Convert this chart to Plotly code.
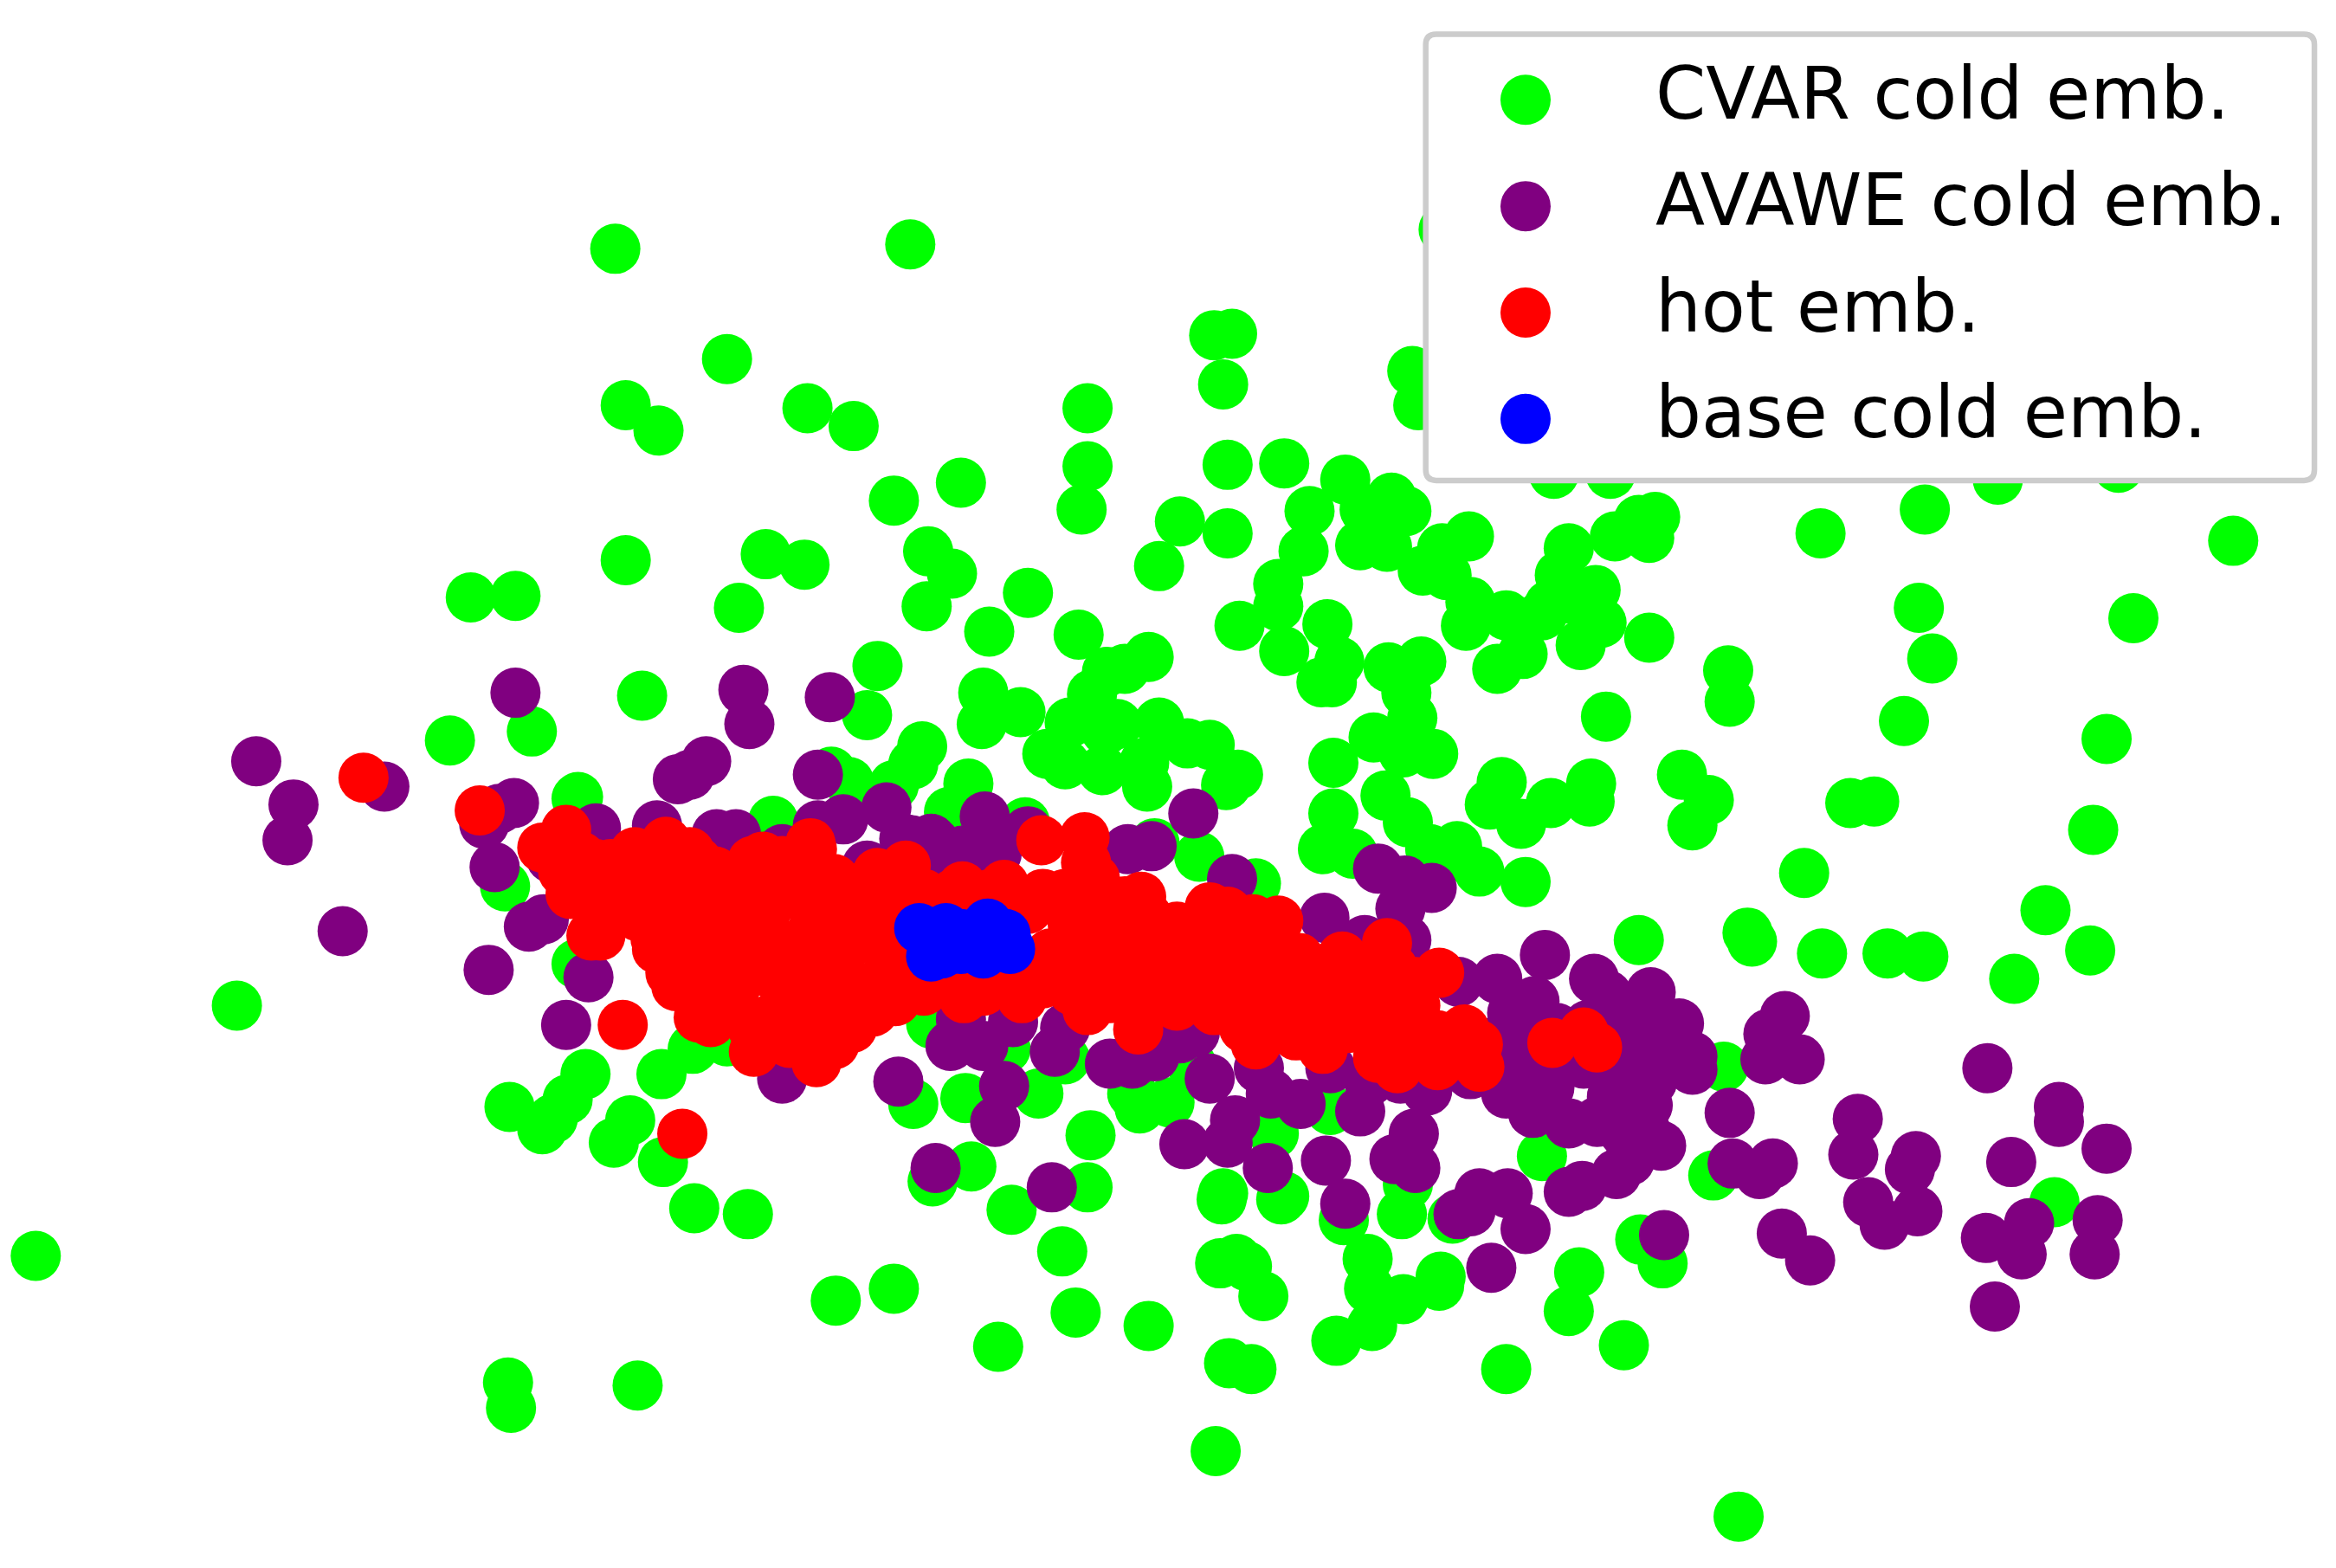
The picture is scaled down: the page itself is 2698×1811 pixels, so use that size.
import plotly.graph_objects as go

cvar_points = [
    (413,167),(611,164),(488,241),(420,272),(442,289),(542,274),(573,286),(730,274),(730,313),(726,342),
    (645,324),(600,336),(420,376),(514,372),(540,379),(623,370),(639,385),(622,407),(690,398),(664,424),
    (724,426),(778,380),(316,401),(346,400),(496,408),(589,447),(582,480),(431,467),(357,491),(302,497),
    (660,465),(659,486),(685,478),(619,501),(650,526),(558,518),(570,525),(388,535),(613,513),(600,527),
    (771,441),(755,449),(743,451),(733,466),(718,485),(703,506),(715,513),(750,486),(778,485),(740,517),
    (742,490),(768,512),(797,499),(812,500),(831,520),(823,527),(770,528),
    (815,225),(827,224),(821,258),(948,249),(952,272),(969,154),(824,312),(862,311),(903,322),(934,334),
    (944,343),(916,342),(792,350),(824,358),(879,343),(875,370),(913,366),(931,367),(968,368),(986,360),
    (955,383),(971,386),(987,404),(984,420),(1011,413),(858,392),(858,407),(832,420),(862,437),(891,419),
    (899,444),(894,458),(887,458),(932,448),(954,444),(944,465),(948,482),(922,495),(942,505),(962,506),
    (895,512),(930,534),(1008,525),(1053,368),(1047,386),(1040,406),(1071,396),(1075,418),(1061,433),
    (1035,413),(1022,439),(1005,449),(1055,402),(1084,360),(1100,349),(1111,347),(1107,361),(1107,428),
    (1160,450),(1161,471),(1078,481),(1292,342),(1222,358),(1499,363),(1288,408),(1297,442),(1432,415),
    (1278,484),(1414,496),(1043,318),(1341,322),(1081,318),(1422,314),
    (1068,526),(1067,538),(1041,539),(1000,540),(1021,553),(945,552),(895,546),(888,570),(908,573),
    (1129,520),(1147,537),(1136,554),(1242,539),(1258,538),(519,551),(637,545),(688,552),(775,566),
    (805,575),(843,593),(978,568),(993,585),(1024,592),(975,575),(960,570),(1405,557),(1211,586),
    (1373,611),(1403,638),(1352,657),(1100,631),(1173,626),(1176,632),(1223,640),(1267,640),(1291,642),
    (339,595),(387,647),(387,536),(625,687),(675,704),(715,711),(765,744),(760,734),(800,715),(893,745),
    (24,843),(159,675),(341,928),(343,945),(428,930),(561,873),(600,865),(670,904),(722,881),(771,890),
    (713,840),(679,812),(730,797),(626,793),(652,783),(732,762),(613,741),(648,737),(697,734),(466,811),
    (502,815),(445,780),(412,767),(423,752),(364,758),(342,743),(371,751),(381,738),(393,721),(444,721),
    (465,704),(488,699),
    (816,974),(1167,1018),(1090,903),(1011,919),(1053,880),(1060,854),(1116,848),(1101,832),(1379,807),
    (1150,789),(1157,716),(1035,776),(897,900),(921,890),(942,872),(967,857),(966,863),(919,865),(918,845),
    (975,818),(902,819),(941,815),(945,795),(848,870),(830,845),(819,848),(837,850),(840,919),(825,915),
    (820,805),(821,801),(860,805),(862,803),(855,761),(785,740),
]
avawe_points = [
    (172,511),(197,540),(193,564),(230,625),(328,651),(395,656),(380,688),(525,724),(603,726),(628,784),
    (706,797),(668,753),(674,729),(638,702),(660,702),(708,706),(745,714),(775,709),(760,714),(355,622),
    (365,617),(332,582),(258,528),(335,543),(345,539),(325,553),(346,465),(499,463),(503,486),(557,468),
    (474,511),(463,520),(455,523),(549,520),(566,550),(549,554),(595,542),(661,548),(607,563),(625,563),
    (690,558),(757,570),(773,568),(400,556),(441,554),(481,560),(494,560),(525,570),(582,581),(370,576),
    (645,684),(680,686),(715,690),(801,546),(827,590),(889,616),(925,583),(943,591),(961,596),(940,610),
    (916,631),(944,631),(628,566),(612,564),(646,571),(669,573),(631,575),
    (1037,641),(1334,717),(1198,682),(1187,694),(1185,711),(1208,711),(1382,743),(1382,753),(1414,771),
    (1350,780),(1247,751),(1244,775),(1286,776),(1282,785),(1254,807),(1265,822),(1287,813),(1196,828),
    (1215,846),(1333,831),(1362,821),(1357,842),(1408,819),(1406,842),(1339,877),(1161,747),(1163,781),
    (1190,781),(1181,788),(1117,829),(1001,851),(1024,825),(1012,801),(993,801),(979,815),(987,813),
    (903,808),(890,779),(851,784),(795,768),(824,767),(829,752),(812,724),(873,741),(853,734),(913,746),
    (949,761),(936,778),(950,784),(1053,800),(1062,796),(1085,788),(1094,779),(1115,769),(1053,754),
    (1072,753),(1029,747),(1011,734),(987,721),(940,724),(919,726),(958,732),(893,717),(845,717),
    (1109,726),(1106,742),(1082,736),(1097,755),(1136,718),(1136,709),(1127,687),(1108,666),(1070,657),
    (1079,668),(1030,672),(1005,657),(979,659),(1066,688),(1063,714),(1023,697),(1097,697),(1023,717),
    (802,693),(792,697),(1030,690),(1040,710),(1095,680),(1115,690),(1120,710),(1110,705),(1085,720),
    (1040,730),(1000,700),(1005,715),(1085,700),(1045,690),(1105,760),(1090,760),(1015,680),(1050,705),
]
hot_points = [
    (244,522),(322,544),(418,688),(458,761),
    (380,557),(364,569),(383,600),(397,628),(403,628),(441,637),(450,653),(454,662),(469,683),(477,686),
    (506,706),(548,713),(560,701),(586,679),(601,672),(647,670),(686,670),(730,678),(764,691),(447,565),
    (463,572),(426,572),(512,575),(544,566),(589,586),(608,581),(646,595),(674,594),(699,564),(728,562),
    (729,579),(766,602),(812,609),(824,612),(841,617),(858,618),(901,642),(872,643),(931,633),(966,653),
    (949,659),(983,691),(992,701),(993,716),(965,715),(938,717),(888,704),(843,701),(1042,700),(1063,693),
    (1072,703),
    (385,590),(400,600),(420,585),(430,610),(445,600),(460,590),(440,630),(465,625),(480,585),(495,600),
    (510,590),(490,630),(510,625),(470,655),(495,660),(520,655),(530,600),(550,590),(545,625),(570,610),
    (565,640),(540,670),(515,685),(560,670),(590,605),(610,600),(600,640),(590,660),(630,605),(660,610),
    (690,610),(715,600),(740,610),(705,640),(730,635),(755,625),(700,660),(720,665),(760,650),(745,670),
    (785,630),(780,660),(810,640),(825,665),(800,665),(850,640),(870,650),(835,690),(860,680),(880,670),
    (905,665),(885,690),(925,665),(945,685),(915,688),(940,705),(965,695),(410,580),(400,580),(392,600),
    (378,585),(390,575),(405,590),(412,612),(425,595),(428,615),(440,575),(438,598),(442,620),(455,610),
    (455,640),(468,578),(470,605),(478,640),(475,670),(488,588),(488,615),(490,680),(505,578),(505,645),
    (505,690),(515,610),(525,578),(528,635),(528,680),(530,700),(545,570),(545,600),(545,650),(548,695),
    (560,590),(565,620),(565,655),(572,690),(580,595),(585,630),(580,665),(600,590),(605,620),(600,660),
    (620,600),(625,610),(620,665),(640,600),(645,660),(665,600),(660,665),(680,610),(685,650),(700,600),
    (720,620),(720,650),(735,590),(740,625),(745,655),(755,605),(770,615),(770,640),(765,670),(790,622),
    (795,650),(790,675),(810,620),(825,625),(820,650),(815,678),(840,630),(840,660),(855,660),(850,690),
    (870,670),(870,695),(890,650),(895,680),(915,650),(915,675),(935,650),(930,690),(950,675),(955,705),
    (925,710),(905,690),(975,705),
]
base_points = [
    (617,623),(625,642),(663,620),(645,637),(678,637),(635,623),(650,630),(625,627),(670,630),(660,640),
    (632,640),(675,627),(645,627),
]

series_names = ['CVAR cold emb.', 'AVAWE cold emb.', 'hot emb.', 'base cold emb.']
series_colors = ['#00ff00', '#800080', '#ff0000', '#0000ff']
series_points = [cvar_points, avawe_points, hot_points, base_points]

WIDTH = 2698
HEIGHT = 1811
X_MAX = 1568
Y_MAX = 1052.5
MARKER_PX = 58


def rounded_box(x0, y0, x1, y1, r):
    return (f'M {x0+r},{y0} L {x1-r},{y0} Q {x1},{y0} {x1},{y0+r} L {x1},{y1-r} Q {x1},{y1} {x1-r},{y1} '
            f'L {x0+r},{y1} Q {x0},{y1} {x0},{y1-r} L {x0},{y0+r} Q {x0},{y0} {x0+r},{y0} Z')


fig = go.Figure()
for name, color, points in zip(series_names, series_colors, series_points):
    fig.add_trace(go.Scatter(
        x=[p[0] for p in points],
        y=[p[1] for p in points],
        mode='markers',
        name=name,
        showlegend=False,
        marker=dict(color=color, size=MARKER_PX, line=dict(width=0)),
    ))

# legend drawn by hand, the built-in one caps its marker size
fig.add_shape(type='path', path=rounded_box(957, 23, 1553.5, 322.5, 7), xref='x', yref='y', layer='above',
              fillcolor='white', line=dict(color='#cccccc', width=6.5))
swatch_r = MARKER_PX / 2 * X_MAX / WIDTH
for i, (name, color) in enumerate(zip(series_names, series_colors)):
    row_y = 67 + i * 71.4
    fig.add_shape(type='circle', xref='x', yref='y', layer='above',
                  x0=1024 - swatch_r, x1=1024 + swatch_r, y0=row_y - swatch_r, y1=row_y + swatch_r,
                  fillcolor=color, line=dict(width=0))
    fig.add_annotation(x=1112, y=row_y - 4, xref='x', yref='y', text=name, showarrow=False,
                       xanchor='left', yanchor='middle', xshift=-3,
                       font=dict(family='DejaVu Sans', size=83.4, color='black'))

fig.update_layout(
    width=WIDTH,
    height=HEIGHT,
    margin=dict(l=0, r=0, t=0, b=0),
    paper_bgcolor='white',
    plot_bgcolor='white',
    showlegend=False,
    xaxis=dict(range=[0, X_MAX], visible=False),
    yaxis=dict(range=[Y_MAX, 0], visible=False),
)

fig.write_html('out.html', config={'displayModeBar': False}, post_script="document.body.style.margin='0';")
